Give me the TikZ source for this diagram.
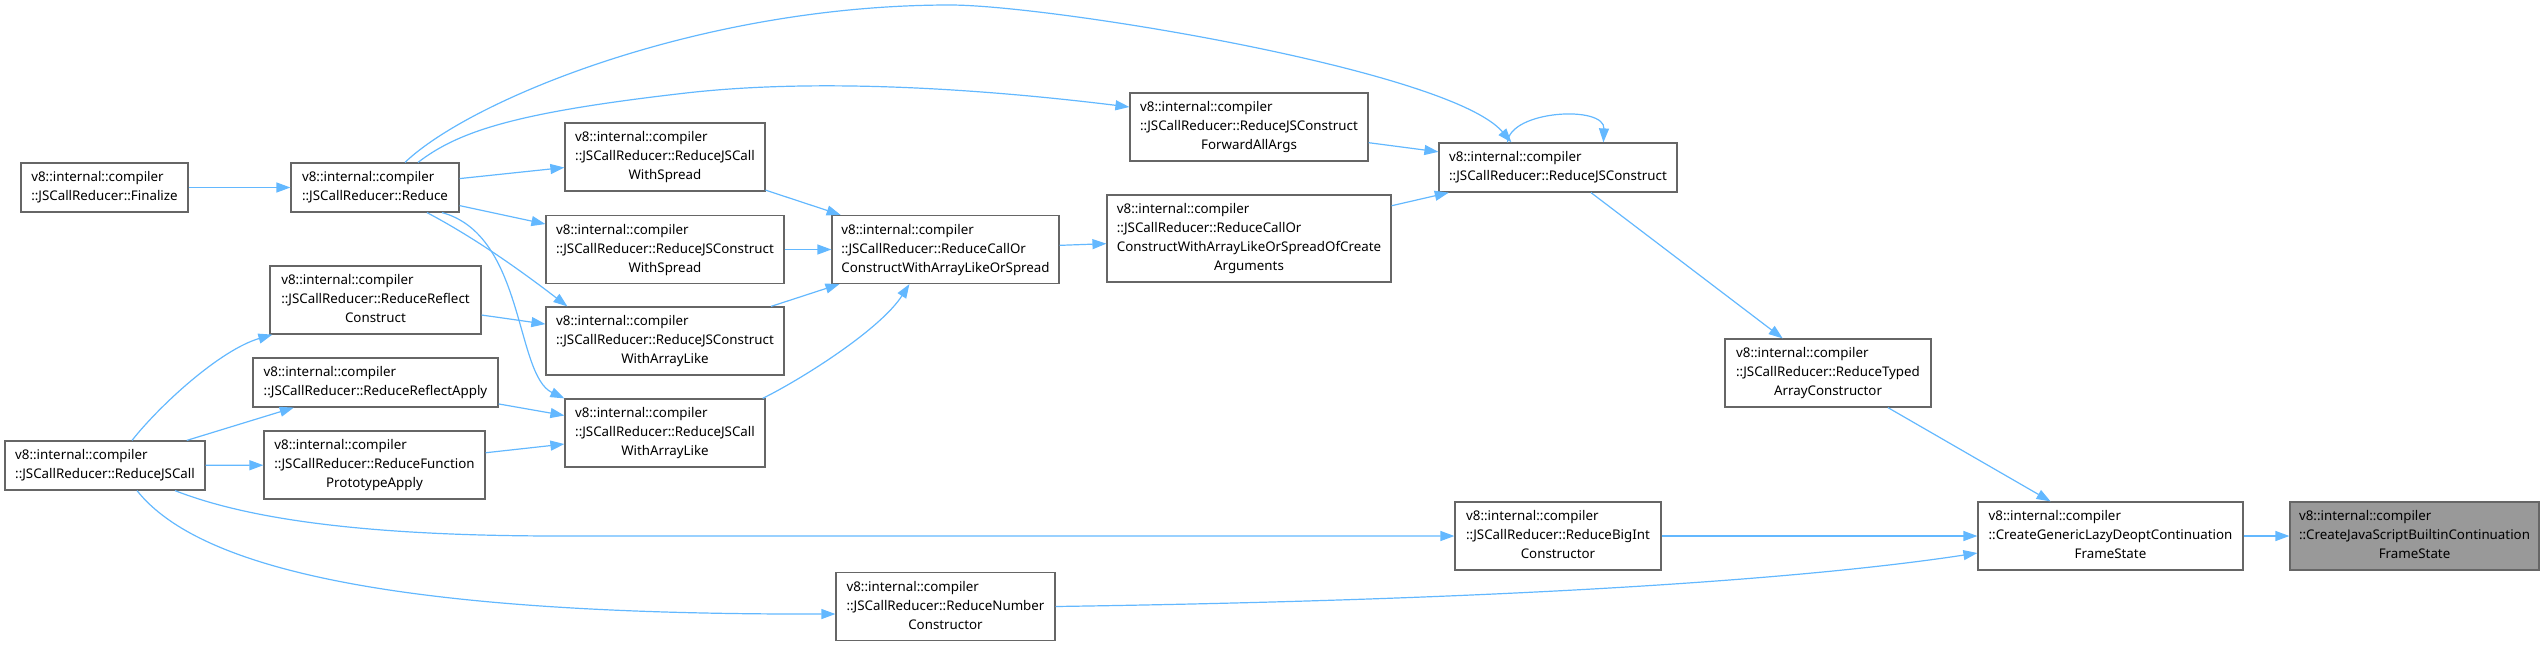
\documentclass[tikz,border=0pt]{standalone}
\usepackage{fontspec}
\setmainfont{Noto Sans}
\usetikzlibrary{arrows.meta}
\definecolor{edgec}{HTML}{63B8FF}
\definecolor{bordc}{HTML}{666666}
\definecolor{fillg}{HTML}{999999}
\newcommand{\twol}[2]{\begin{tabular}{@{}l@{}}#1\\#2\end{tabular}}
\newcommand{\threel}[3]{\begin{tabular}{@{}l@{}}#1\\#2\\\multicolumn{1}{@{}c@{}}{#3}\end{tabular}}
\newcommand{\fourl}[4]{\begin{tabular}{@{}l@{}}#1\\#2\\#3\\\multicolumn{1}{@{}c@{}}{#4}\end{tabular}}
\renewcommand{\arraystretch}{1}
\tikzset{
  fnbox/.style={draw=bordc, fill=white, line width=1.2pt, inner sep=0pt, anchor=center,
    font=\fontsize{13.33}{19}\selectfont},
  hlbox/.style={fnbox, fill=fillg},
  calledge/.style={draw=edgec, line width=1.2pt, -{Triangle[length=14pt,width=10pt]}}
}
\begin{document}
\begin{tikzpicture}[x=1pt,y=-1pt]
\useasboundingbox (0,0) rectangle (2545,646);
\node[fnbox, minimum width=167pt, minimum height=49pt] (fin) at (104.5,187.5) {\twol{v8::internal::compiler}{::JSCallReducer::Finalize}};
\node[fnbox, minimum width=168pt, minimum height=49pt] (red) at (375,187.5) {\twol{v8::internal::compiler}{::JSCallReducer::Reduce}};
\node[fnbox, minimum width=200pt, minimum height=68pt] (jcws) at (665,157) {\threel{v8::internal::compiler}{::JSCallReducer::ReduceJSCall}{WithSpread}};
\node[fnbox, minimum width=238pt, minimum height=68pt] (jconws) at (665,249.5) {\threel{v8::internal::compiler}{::JSCallReducer::ReduceJSConstruct}{WithSpread}};
\node[fnbox, minimum width=238pt, minimum height=68pt] (jconwal) at (665,341) {\threel{v8::internal::compiler}{::JSCallReducer::ReduceJSConstruct}{WithArrayLike}};
\node[fnbox, minimum width=200pt, minimum height=68pt] (jcwal) at (665,433) {\threel{v8::internal::compiler}{::JSCallReducer::ReduceJSCall}{WithArrayLike}};
\node[fnbox, minimum width=211pt, minimum height=68pt] (rcon) at (375.5,300) {\threel{v8::internal::compiler}{::JSCallReducer::ReduceReflect}{Construct}};
\node[fnbox, minimum width=245pt, minimum height=49pt] (rapp) at (375.5,382.5) {\twol{v8::internal::compiler}{::JSCallReducer::ReduceReflectApply}};
\node[fnbox, minimum width=221pt, minimum height=68pt] (fpa) at (374.5,465) {\threel{v8::internal::compiler}{::JSCallReducer::ReduceFunction}{PrototypeApply}};
\node[fnbox, minimum width=200pt, minimum height=49pt] (jscall) at (105,465.5) {\twol{v8::internal::compiler}{::JSCallReducer::ReduceJSCall}};
\node[fnbox, minimum width=227pt, minimum height=68pt] (cocs) at (945.5,249.5) {\threel{v8::internal::compiler}{::JSCallReducer::ReduceCallOr}{ConstructWithArrayLikeOrSpread}};
\node[fnbox, minimum width=284pt, minimum height=87pt] (coca) at (1249,238.5) {\fourl{v8::internal::compiler}{::JSCallReducer::ReduceCallOr}{ConstructWithArrayLikeOrSpreadOfCreate}{Arguments}};
\node[fnbox, minimum width=238pt, minimum height=68pt] (fwd) at (1249,127) {\threel{v8::internal::compiler}{::JSCallReducer::ReduceJSConstruct}{ForwardAllArgs}};
\node[fnbox, minimum width=238pt, minimum height=49pt] (jcon) at (1558,167.5) {\twol{v8::internal::compiler}{::JSCallReducer::ReduceJSConstruct}};
\node[fnbox, minimum width=206pt, minimum height=68pt] (typed) at (1828,373) {\threel{v8::internal::compiler}{::JSCallReducer::ReduceTyped}{ArrayConstructor}};
\node[fnbox, minimum width=206pt, minimum height=68pt] (bigint) at (1558,536) {\threel{v8::internal::compiler}{::JSCallReducer::ReduceBigInt}{Constructor}};
\node[fnbox, minimum width=219pt, minimum height=68pt] (number) at (945.5,606.5) {\threel{v8::internal::compiler}{::JSCallReducer::ReduceNumber}{Constructor}};
\node[fnbox, minimum width=265pt, minimum height=68pt] (generic) at (2110.5,536) {\threel{v8::internal::compiler}{::CreateGenericLazyDeoptContinuation}{FrameState}};
\node[hlbox, minimum width=249pt, minimum height=68pt] (builtin) at (2414.5,536) {\threel{v8::internal::compiler}{::CreateJavaScriptBuiltinContinuation}{FrameState}};
% straight connectors
\draw[calledge] (fin) -- (red);
\draw[calledge] (red) -- (jcws);
\draw[calledge] (red) -- (jconws);
\draw[calledge] (jcws) -- (cocs);
\draw[calledge] (jconws) -- (cocs);
\draw[calledge] (jconwal) -- (cocs);
\draw[calledge] (rcon) -- (jconwal);
\draw[calledge] (rapp) -- (jcwal);
\draw[calledge] (fpa) -- (jcwal);
\draw[calledge] (jscall) -- (rapp);
\draw[calledge] (jscall) -- (fpa);
\draw[calledge] (cocs) -- (coca);
\draw[calledge] (coca) -- (jcon);
\draw[calledge] (fwd) -- (jcon);
\draw[calledge] (jcon) -- (typed);
\draw[calledge] (typed) -- (generic);
\draw[calledge] (bigint) -- (generic);
\draw[calledge] (generic) -- (builtin);
% curved connectors
\draw[calledge] ([xshift=52pt]red.south) .. controls (475,238) and (520,270) .. ([xshift=22pt]jconwal.north west);
\draw[calledge] ([xshift=67pt]red.south) .. controls (525,235) and (515,375) .. (jcwal.north west);
\draw[calledge] ([xshift=43pt]red.north) .. controls (460,130) and (520,112) .. (686,93) .. controls (800,80) and (950,85) .. ([yshift=20pt]fwd.west);
\draw[calledge] ([xshift=30pt]red.north) .. controls (470,100) and (700,5) .. (950,5) .. controls (1050,5) and (1450,70) .. ([xshift=73pt]jcon.north west);
\draw[calledge] ([xshift=69pt]jcon.north west) .. controls (1510,110) and (1605,105) .. ([xshift=165pt]jcon.north west);
\draw[calledge] ([xshift=-3pt]jcwal.north east) .. controls (800,380) and (880,330) .. ([xshift=78pt]cocs.south west);
\draw[calledge] ([xshift=27pt]jscall.north) .. controls (160,405) and (220,350) .. ([xshift=3pt]rcon.south west);
\draw[calledge] ([xshift=70pt]jscall.south) .. controls (250,520) and (370,536) .. (560,536) -- (bigint.west);
\draw[calledge] ([xshift=32pt]jscall.south) .. controls (200,570) and (400,615) .. ([yshift=-7.5pt]number.west);
\draw[calledge] (number.east) .. controls (1500,600) and (1800,580) .. ([yshift=-17pt]generic.west);
\end{tikzpicture}
\end{document}
